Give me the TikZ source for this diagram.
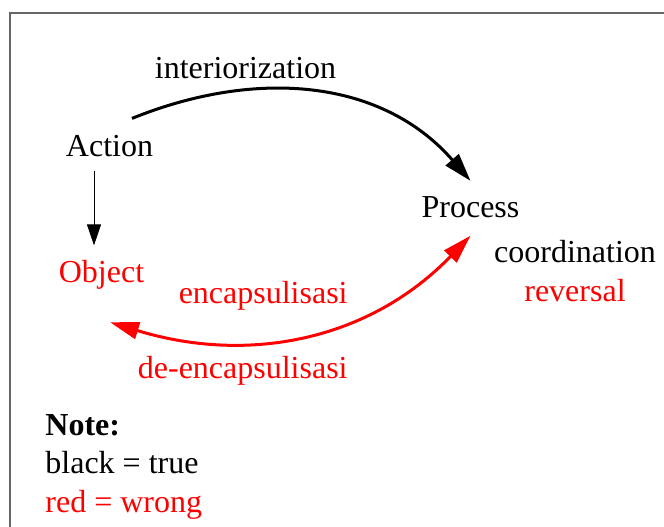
\documentclass[tikz,border=0pt]{standalone}
\usepackage{fontspec}
\setmainfont{Liberation Serif}
\usepackage{tikz}
\usetikzlibrary{positioning}
\usetikzlibrary{arrows.meta}

\begin{document}
\begin{tikzpicture}[
    x=0.5pt,y=0.5pt,
    mytext/.style={inner sep=0pt,font=\fontsize{16}{19}\selectfont},
    myred/.style={mytext,text=red},
    bigarrow/.style={line width=1.5pt,-{Triangle[length=14pt,width=8.5pt]}},
    redarrow/.style={red,line width=1.5pt,{Triangle[length=14.5pt,width=8.5pt]}-{Triangle[length=14.5pt,width=8.5pt]}},
    thinarrow/.style={line width=0.5pt,-{Triangle[length=10.5pt,width=7pt]}}
    ]

    \useasboundingbox (0,0) rectangle (664,526);
    \clip (0,0) rectangle (664,526);
    \draw[black!60,line width=0.8pt] (10,-20) rectangle (690,513);

    \node[mytext,anchor=base] (int) at (245.5,447) {interiorization};
    \node[mytext,anchor=base] (Action) at (109.5,370) {Action};
    \node[mytext,anchor=base] (Process) at (470.5,309) {Process};
    \node[myred,anchor=base] (Object) at (101.5,244) {Object};
    \node[mytext,anchor=base] (coord) at (575,264) {coordination};
    \node[myred,anchor=base] (rev) at (575,225) {reversal};
    \node[myred,anchor=base east] (enc) at (348,223) {encapsulisasi};
    \node[myred,anchor=base east] (deenc) at (348,148) {de-encapsulisasi};

    \node[mytext,anchor=base west] (note) at (45,91) {\textbf{Note:}};
    \node[mytext,anchor=base west] (black) at (45,53) {black = true};
    \node[myred,anchor=base west] (red) at (45,14) {red = wrong};

    \draw[bigarrow] ([xshift=11.25pt,yshift=8pt]Action.north)
        to[out=22,in=131] ([yshift=7.4pt]Process.north);
    \draw[thinarrow] ([xshift=-7.75pt,yshift=-7pt]Action.south)
        -- ([xshift=-3.75pt,yshift=7pt]Object.north);
    \draw[redarrow] ([xshift=4.25pt,yshift=-16.5pt]Object.south)
        to[out=-17,in=226] ([yshift=-9pt]Process.south);

\end{tikzpicture}
\end{document}
